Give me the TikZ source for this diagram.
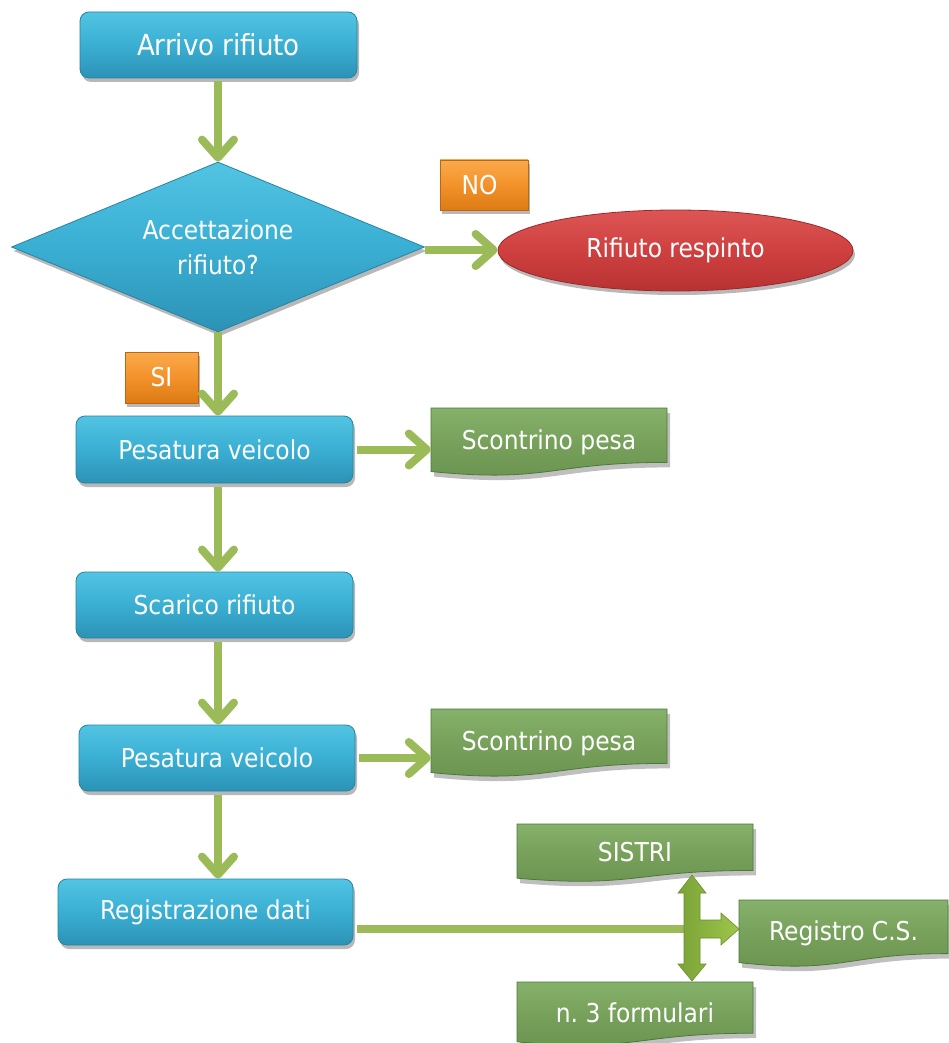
\documentclass[tikz,border=0pt]{standalone}
\usepackage{fontspec}
\setmainfont{DejaVu Sans Condensed}
\usetikzlibrary{shapes.geometric,arrows.meta,calc,shadows}

\definecolor{flowgreen}{HTML}{9BBB59}
\definecolor{teedark}{HTML}{7BA237}
\definecolor{teelight}{HTML}{9DC64A}
\definecolor{teeedge}{HTML}{6A8E2E}
\definecolor{bluetop}{HTML}{52C4E3}
\definecolor{bluemid}{HTML}{3AAFD3}
\definecolor{bluebot}{HTML}{2C92B5}
\definecolor{blueedge}{HTML}{2683A3}
\definecolor{orangetop}{HTML}{FAAA4C}
\definecolor{orangemid}{HTML}{F3922A}
\definecolor{orangebot}{HTML}{DC7A14}
\definecolor{orangeedge}{HTML}{BD660E}
\definecolor{redtop}{HTML}{DC5655}
\definecolor{redmid}{HTML}{CF4040}
\definecolor{redbot}{HTML}{B83232}
\definecolor{rededge}{HTML}{9C2727}
\definecolor{doctop}{HTML}{86B16A}
\definecolor{docmid}{HTML}{76A05A}
\definecolor{docbot}{HTML}{68924E}
\definecolor{docedge}{HTML}{4D7838}

\tikzset{
  every node/.style={text=white, font=\fontsize{26}{35}\selectfont},
  softshadow/.style={drop shadow={shadow xshift=2pt, shadow yshift=-4pt, opacity=0.28, fill=black}},
  stepbox/.style={rectangle, rounded corners=9pt, top color=bluetop, bottom color=bluebot,
    middle color=bluemid, draw=blueedge, line width=0.8pt, softshadow, minimum height=66pt, inner sep=0pt},
  decision/.style={diamond, aspect=2.43, minimum width=413pt, minimum height=170pt, inner sep=0pt,
    top color=bluetop, bottom color=bluebot, middle color=bluemid, draw=blueedge, line width=0.8pt,
    softshadow, align=center},
  rejectbox/.style={ellipse, minimum width=355pt, minimum height=81pt, inner sep=0pt,
    top color=redtop, bottom color=redbot, middle color=redmid, draw=rededge, line width=0.8pt, softshadow},
  tagbox/.style={rectangle, top color=orangetop, bottom color=orangebot, middle color=orangemid,
    draw=orangeedge, line width=0.8pt, softshadow, inner sep=0pt, minimum height=50pt},
  docfill/.style={top color=doctop, bottom color=docbot, middle color=docmid, draw=docedge, line width=0.8pt},
  docshade/.style={fill=black, opacity=0.25},
  doctext/.style={rectangle, inner sep=0pt},
  flow/.style={draw=flowgreen, line width=8pt, -{Straight Barb[length=18pt, width=32pt, round]}},
  flowline/.style={draw=flowgreen, line width=8pt},
  teearrow/.style={left color=teedark, right color=teelight, draw=teeedge, line width=0.6pt}
}

% wavy-bottom document symbol: #1 name, (#2,#3) centre, #4 width, #5 height, #6 text
\newcommand\docnote[6]{%
  \begin{scope}[shift={(#2,#3)}]
    \path[docshade, shift={(3,5)}] ({-#4/2},{-#5/2}) -- ({#4/2},{-#5/2}) -- ({#4/2},{0.30*#5})
      .. controls (0,{0.30*#5}) and (0,{0.607*#5}) .. ({-#4/2},{0.434*#5}) -- cycle;
    \path[docfill] ({-#4/2},{-#5/2}) -- ({#4/2},{-#5/2}) -- ({#4/2},{0.30*#5})
      .. controls (0,{0.30*#5}) and (0,{0.607*#5}) .. ({-#4/2},{0.434*#5}) -- cycle;
  \end{scope}
  \node[doctext, minimum width=#4pt, minimum height=#5pt] (#1) at (#2,#3) {\raisebox{3pt}{#6}};
}

\begin{document}
\frenchspacing
\begin{tikzpicture}[x=1pt, y=-1pt]
  \useasboundingbox (0,0) rectangle (949,1043);
  \fill[white] (0,0) rectangle (949,1043);

  % main column
  \node[stepbox, minimum width=277pt, font=\fontsize{29}{35}\selectfont] (arrivo) at (218.5,45) {Arrivo rifiuto};
  \node[decision] (dec) at (218,247) {Accettazione\\rifiuto?};
  \node[stepbox, minimum width=277pt, minimum height=67pt] (pes1) at (214.5,449.5) {Pesatura veicolo};
  \node[stepbox, minimum width=277pt] (scar) at (214.5,605) {Scarico rifiuto};
  \node[stepbox, minimum width=276pt] (pes2) at (217,758) {Pesatura veicolo};
  \node[stepbox, minimum width=295pt] (reg) at (205.5,912) {Registrazione dati};

  % answers of the decision
  \node[tagbox, minimum width=88pt] (no) at (484,185) {\hspace*{-9pt}NO};
  \node[tagbox, minimum width=73pt, minimum height=51pt] (si) at (161.5,377.5) {SI};
  \node[rejectbox] (rej) at (675.5,250.5) {Rifiuto respinto};

  % documents produced
  \docnote{scon1}{549}{442}{236}{68}{Scontrino pesa}
  \docnote{scon2}{549}{743}{236}{68}{Scontrino pesa}
  \docnote{sistri}{635}{853}{236}{58}{SISTRI}
  \docnote{regcs}{843.5}{933.5}{209}{67}{Registro C.S.}
  \docnote{form}{635}{1014}{236}{64}{n. 3 formulari}

  % connectors
  \draw[flow, shorten <=3pt] (arrivo.south -| dec.north) -- (dec.north);
  \draw[flow] ([yshift=-3pt]dec.east) -- ([yshift=-3pt]dec.east -| rej.west);
  \draw[flow] (dec.south) -- (pes1.north -| dec.south);
  \draw[flow, shorten <=4pt] (pes1.east) -- (pes1.east -| scon1.west);
  \draw[flow, shorten <=4pt] (pes1.south -| dec.south) -- (scar.north -| dec.south);
  \draw[flow, shorten <=4pt] (scar.south -| dec.south) -- (pes2.north -| dec.south);
  \draw[flow, shorten <=4pt] (pes2.east) -- (pes2.east -| scon2.west);
  \draw[flow, shorten <=4pt] (pes2.south -| dec.south) -- (reg.north -| dec.south);

  % distribution to the registers
  \coordinate (hub) at (692,929);
  \draw[flowline, shorten <=4pt] (reg.east |- hub) -- ([xshift=-6pt]hub);
  \path[teearrow] (hub) ++(0,-54) -- ++(14,18) -- ++(-6,0) -- ++(0,27) -- ++(21,0) -- ++(0,-7)
    -- ++(18,16) -- ++(-18,16) -- ++(0,-7) -- ++(-21,0) -- ++(0,26) -- ++(6,0) -- ++(-14,17)
    -- ++(-14,-17) -- ++(6,0) -- ++(0,-71) -- ++(-6,0) -- cycle;
\end{tikzpicture}
\end{document}
